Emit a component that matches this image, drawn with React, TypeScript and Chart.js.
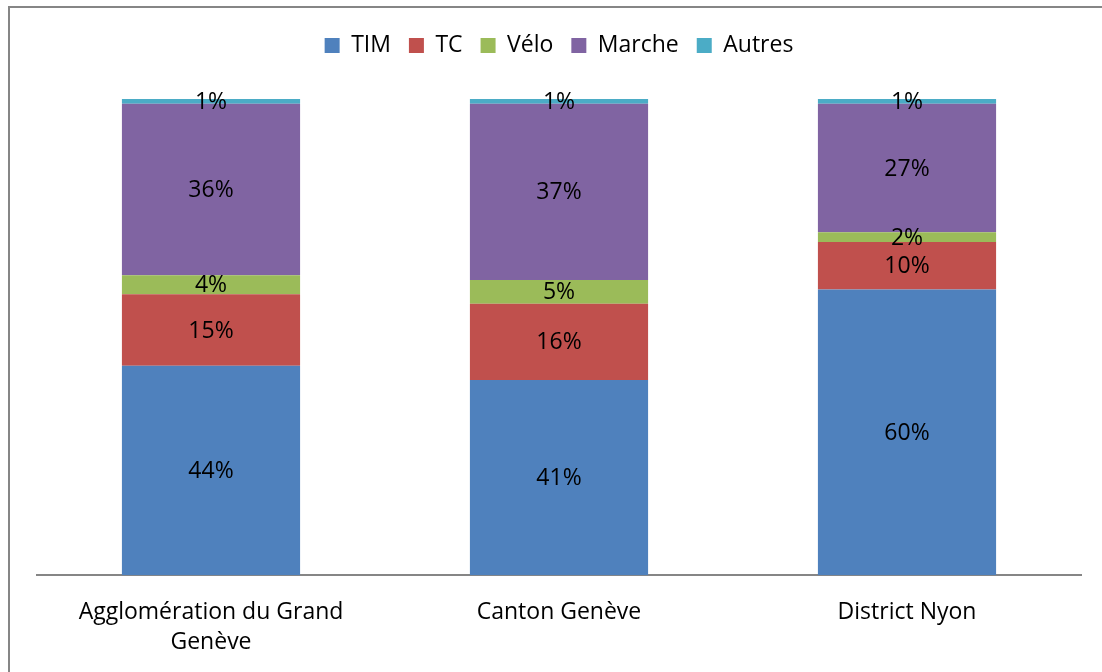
import React, { useEffect, useRef } from "react";
import { Chart, registerables } from "chart.js";

Chart.register(...registerables);

const categories: (string | string[])[] = [
  ["Agglomération du Grand", "Genève"],
  "Canton Genève",
  "District Nyon",
];
const seriesNames = ["TIM", "TC", "Vélo", "Marche", "Autres"];
const timValues = [44, 41, 60];
const tcValues = [15, 16, 10];
const veloValues = [4, 5, 2];
const marcheValues = [36, 37, 27];
const autresValues = [1, 1, 1];
const seriesColors = ["#4F81BD", "#C0504D", "#9BBB59", "#8064A2", "#4BACC6"];

const FONT = "'Open Sans'";
const FSIZE = 23;

const framePlugin = {
  id: "frame",
  beforeDraw(chart: any) {
    const ctx = chart.ctx;
    ctx.save();
    ctx.fillStyle = "#ffffff";
    ctx.fillRect(0, 0, chart.width, chart.height);
    ctx.strokeStyle = "#868686";
    ctx.lineWidth = 2;
    ctx.beginPath();
    ctx.moveTo(9, chart.height + 5);
    ctx.lineTo(9, 7);
    ctx.lineTo(chart.width + 5, 7);
    ctx.stroke();
    ctx.restore();
  },
};

const legendSpacer = {
  id: "legendSpacer",
  afterInit(chart: any) {
    const legend = chart.legend;
    if (!legend || legend._spaced) return;
    const orig = legend.fit;
    legend.fit = function () {
      orig.call(this);
      this.height += 32;
    };
    legend._spaced = true;
  },
};

const valueLabels = {
  id: "valueLabels",
  afterDatasetsDraw(chart: any) {
    const ctx = chart.ctx;
    ctx.save();
    ctx.font = `${FSIZE}px ${FONT}`;
    ctx.fillStyle = "#000000";
    ctx.textAlign = "center";
    ctx.textBaseline = "middle";
    chart.data.datasets.forEach((ds: any, di: number) => {
      const meta = chart.getDatasetMeta(di);
      meta.data.forEach((bar: any, i: number) => {
        const v = ds.data[i];
        const cy = (bar.y + bar.base) / 2;
        ctx.fillText(`${v}%`, bar.x, cy + 1);
      });
    });
    ctx.restore();
  },
};

export default function App() {
  const ref = useRef<HTMLCanvasElement>(null);
  useEffect(() => {
    if (!ref.current) return;
    const values = [timValues, tcValues, veloValues, marcheValues, autresValues];
    const chart = new Chart(ref.current, {
      type: "bar",
      data: {
        labels: categories,
        datasets: seriesNames.map((name, i) => ({
          label: name,
          data: values[i],
          backgroundColor: seriesColors[i],
          borderWidth: 0,
          barPercentage: 0.512,
          categoryPercentage: 1,
        })),
      },
      options: {
        animation: false,
        responsive: false,
        maintainAspectRatio: false,
        layout: { padding: { left: 37, right: 21, top: 16, bottom: -8 } },
        plugins: {
          legend: {
            display: true,
            position: "top",
            labels: {
              font: { family: FONT, size: FSIZE },
              color: "#000000",
              boxWidth: 15,
              boxHeight: 15,
              padding: 18,
            },
          },
          tooltip: { enabled: false },
        },
        scales: {
          x: {
            stacked: true,
            grid: { display: false, drawTicks: false },
            border: { display: true, color: "#868686", width: 2 },
            ticks: {
              font: { family: FONT, size: FSIZE, lineHeight: 1.32 },
              color: "#000000",
              padding: 22,
              maxRotation: 0,
            },
          },
          y: {
            stacked: true,
            display: false,
            min: 0,
            max: 100,
          },
        },
      },
      plugins: [framePlugin, legendSpacer, valueLabels],
    });
    return () => chart.destroy();
  }, []);
  return (
    <div style={{ position: "fixed", left: 0, top: 0, width: 1102, height: 672 }}>
      <canvas ref={ref} width={1102} height={672} style={{ width: 1102, height: 672, display: "block" }} />
    </div>
  );
}
